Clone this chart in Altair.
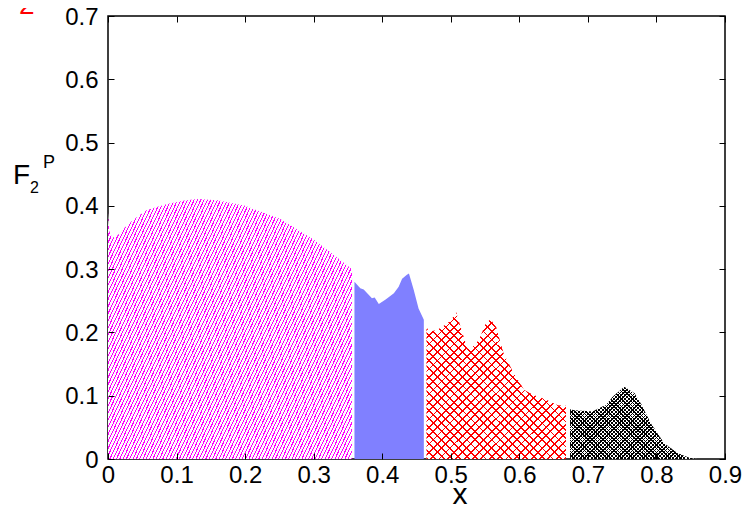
import math
import altair as alt
import pandas as pd

# ---------------- data ----------------
mag_x = [0.0, 0.002, 0.006, 0.012, 0.025, 0.037, 0.056, 0.086, 0.11, 0.13, 0.16, 0.20, 0.25, 0.30, 0.33, 0.356]
mag_y = [0.39, 0.36, 0.35, 0.351, 0.366, 0.378, 0.393, 0.403, 0.408, 0.411, 0.409, 0.400, 0.380, 0.347, 0.322, 0.300]

blue_x = [0.3595, 0.368, 0.373, 0.385, 0.389, 0.395, 0.405, 0.417, 0.424, 0.429, 0.436, 0.439, 0.446, 0.453, 0.4607]
blue_y = [0.280, 0.270, 0.268, 0.254, 0.255, 0.245, 0.252, 0.262, 0.272, 0.285, 0.291, 0.293, 0.267, 0.238, 0.220]

red_x = [0.4646, 0.468, 0.480, 0.495, 0.502, 0.508, 0.512, 0.524, 0.531, 0.541, 0.551, 0.558, 0.566,
         0.577, 0.592, 0.607, 0.621, 0.641, 0.656, 0.668]
red_y = [0.209, 0.201, 0.204, 0.214, 0.222, 0.232, 0.217, 0.175, 0.176, 0.188, 0.214, 0.221, 0.209,
         0.167, 0.135, 0.109, 0.101, 0.093, 0.085, 0.084]

blk_x = [0.674, 0.680, 0.707, 0.716, 0.726, 0.736, 0.753, 0.768, 0.777, 0.792, 0.811, 0.831, 0.850, 0.860]
blk_y = [0.0785, 0.077, 0.075, 0.080, 0.085, 0.098, 0.114, 0.104, 0.088, 0.056, 0.025, 0.009, 0.001, 0.0]

x_ticks = [0, 0.1, 0.2, 0.3, 0.4, 0.5, 0.6, 0.7, 0.8, 0.9]
y_ticks = [0, 0.1, 0.2, 0.3, 0.4, 0.5, 0.6, 0.7]

mag_df = pd.DataFrame({"x": mag_x, "y": mag_y})
blue_df = pd.DataFrame({"x": blue_x, "y": blue_y})
red_df = pd.DataFrame({"x": red_x, "y": red_y})
blk_df = pd.DataFrame({"x": blk_x, "y": blk_y})

FONT = "Liberation Sans"
W, H = 617, 443


# ---------------- hatch fills built as hard-stop linear gradients ----------------
def hatch(color, bg, angle_deg, period, lw, bw, bh):
    a = math.radians(angle_deg)
    nx, ny = math.sin(a), math.cos(a)
    corners = [(0, 0), (1, 0), (0, 1), (1, 1)]
    svals = [(nx * bw * cx + ny * bh * cy, cx, cy) for cx, cy in corners]
    smin = min(svals)
    smax = max(svals)
    S = smax[0] - smin[0]
    M = nx * nx * bw * bw + ny * ny * bh * bh
    k = S / M
    x1, y1 = smin[1], smin[2]
    x2, y2 = x1 + k * nx * bw, y1 + k * ny * bh
    stops = []
    n = int(math.ceil(S / period)) + 1
    for i in range(n):
        o0 = min(1.0, i * period / S)
        o1 = min(1.0, (i * period + lw) / S)
        stops.append(alt.GradientStop(offset=round(o0, 5), color=color))
        stops.append(alt.GradientStop(offset=round(o1, 5), color=color))
        stops.append(alt.GradientStop(offset=round(o1, 5), color=bg))
        o2 = min(1.0, (i + 1) * period / S)
        stops.append(alt.GradientStop(offset=round(o2, 5), color=bg))
        if o2 >= 1.0:
            break
    return alt.LinearGradient(gradient="linear", stops=stops,
                              x1=round(x1, 5), y1=round(y1, 5), x2=round(x2, 5), y2=round(y2, 5))


CLEAR = "rgba(255,255,255,0)"
mag_fill = hatch("#ff00ff", "white", 65, 3.0, 1.0, 244, 260)
red_fill1 = hatch("#ff0000", "white", 45, 5.9, 1.3, 139, 147)
red_fill2 = hatch("#ff0000", CLEAR, 135, 5.9, 1.3, 139, 147)
blk_fill1 = hatch("#000000", "white", 45, 2.6, 1.0, 127, 72)
blk_fill2 = hatch("#000000", CLEAR, 135, 2.6, 1.0, 127, 72)

xs = alt.Scale(domain=[0, 0.9], nice=False, zero=False)
ys = alt.Scale(domain=[0, 0.7], nice=False, zero=False)

axis_common = dict(domain=False, grid=False, tickColor="black", tickWidth=1, tickSize=6,
                   offset=-6, zindex=1, labelFont=FONT, labelFontSize=24, labelColor="black",
                   labelFlush=False, labelOverlap=False, title=None)

bottom_axis = alt.Axis(orient="bottom", values=x_ticks, format=".1~f", labelPadding=4, **axis_common)
left_axis = alt.Axis(orient="left", values=y_ticks, format=".1~f", labelPadding=10, labelOffset=1,
                     **axis_common)
top_axis = alt.Axis(orient="top", values=x_ticks, labels=False, **axis_common)
right_axis = alt.Axis(orient="right", values=y_ticks, labels=False, **axis_common)


def area(df, fill, axes=False):
    return alt.Chart(df).mark_area(fill=fill, strokeWidth=0, interpolate="linear").encode(
        x=alt.X("x:Q", scale=xs, axis=bottom_axis if axes else None),
        y=alt.Y("y:Q", scale=ys, axis=left_axis if axes else None),
    )


mag = area(mag_df, mag_fill, axes=True)
blue = area(blue_df, "#8080ff")
red1 = area(red_df, red_fill1)
red2 = area(red_df, red_fill2)
blk1 = area(blk_df, blk_fill1)
blk2 = area(blk_df, blk_fill2)

frame_axes = alt.Chart(blk_df).mark_point(opacity=0).encode(
    x=alt.X("x:Q", scale=xs, axis=top_axis),
    y=alt.Y("y:Q", scale=ys, axis=right_axis),
)


def label(txt, x, y, size, color="black"):
    return alt.Chart(pd.DataFrame({"t": [txt]})).mark_text(
        font=FONT, fontSize=size, color=color, align="left", baseline="alphabetic"
    ).encode(text="t:N", x=alt.value(x), y=alt.value(y))


y_title_F = label("F", -95, 168, 28)
y_title_2 = label("2", -78, 177, 16)
y_title_P = label("P", -65, 152, 18)
x_title = alt.Chart(pd.DataFrame({"t": ["x"]})).mark_text(
    font=FONT, fontSize=30, color="black", align="center", baseline="alphabetic"
).encode(text="t:N", x=alt.value(352), y=alt.value(488))
red_title = label("2", -89, -2, 28, "#ff0000")

chart = alt.layer(
    mag, blue, red1, red2, blk1, blk2, frame_axes,
    y_title_F, y_title_2, y_title_P, x_title, red_title,
).resolve_axis(x="independent", y="independent").properties(
    width=W, height=H,
    autosize=alt.AutoSizeParams(type="none"),
    padding={"left": 100, "top": 8, "right": 19, "bottom": 46},
).configure_view(stroke="black", strokeWidth=1.5)

chart.save("out.html", embed_options={"renderer": "svg", "actions": False})
